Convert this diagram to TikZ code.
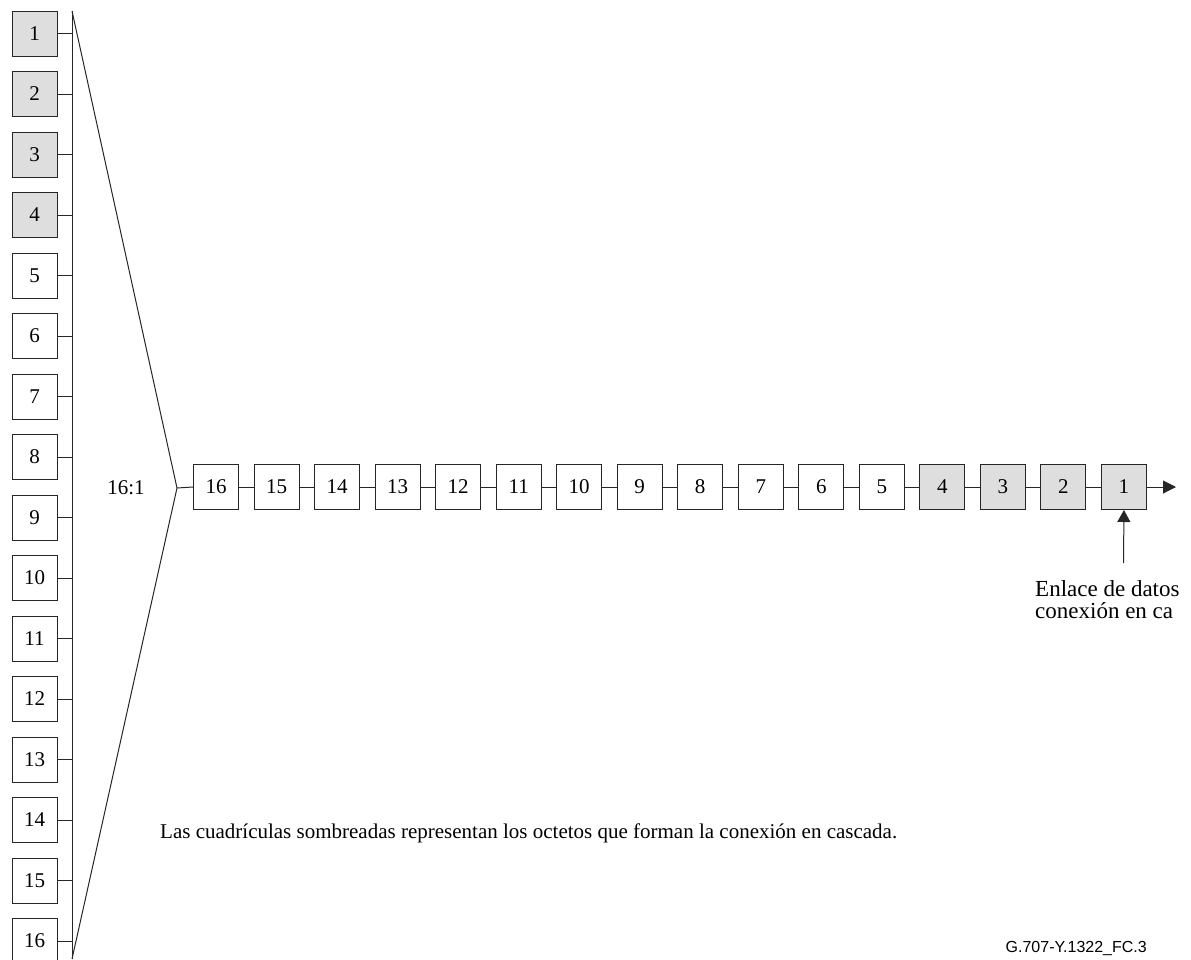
\documentclass[tikz,border=0pt]{standalone}
\usepackage{fontspec}
\setmainfont{Liberation Serif}
\newfontfamily\figfont{Liberation Sans}
\usetikzlibrary{arrows.meta}

\begin{document}
\begin{tikzpicture}[x=1pt,y=-1pt,font=\fontsize{21}{21}\selectfont,
 oct/.style={draw=black!85,line width=1pt,minimum size=45pt,inner sep=0pt},
 octsh/.style={oct,fill=black!13},
 wire/.style={draw=black!85,line width=1pt}]
\useasboundingbox (0,0) rectangle (1191,959);
% tributaries on the left
\coordinate (bt) at (72,11);
\coordinate (bb) at (72,959);
\coordinate (ap) at (177,488);
\foreach \i in {1,...,16}{
  \ifnum\i<5 \def\st{octsh}\else \def\st{oct}\fi
  \node[\st] (l\i) at (34.5,{33.5+60.5*(\i-1)}) {\i};
  \draw[wire] (l\i.east) -- (l\i.east -| bt);
}
\draw[wire] (bt) -- (bb);
\draw[wire] (bt) -- (ap) -- (bb);
\node (ratio) at (126,488) {16:1};
% multiplexed stream
\foreach \n in {1,...,16}{
  \ifnum\n<5 \def\st{octsh}\else \def\st{oct}\fi
  \node[\st] (c\n) at ({216+60.53*(16-\n)},487) {\n};
}
\draw[wire] (ap) -- (c16.west);
\foreach \n [evaluate=\n as \m using int(\n-1)] in {16,...,2}
  \draw[wire] (c\n.east) -- (c\m.west);
\coordinate (out) at (1176,487);
\draw[wire,-{Triangle[length=13pt,width=13pt]}] (c1.east) -- (out);
\coordinate (lk) at (1123.5,563);
\draw[wire,-{Triangle[length=12pt,width=13pt]}] (lk) -- (c1.south);
\node[anchor=north west,align=left,inner sep=0pt,font=\fontsize{23}{22.5}\selectfont]
  (enl) at (1035,580) {Enlace de datos\\conexión en ca};
\node[anchor=west,inner sep=0pt] (note) at (160,833)
  {Las cuadrículas sombreadas representan los octetos que forman la conexión en cascada.};
\node[anchor=east,inner sep=0pt,font=\figfont\fontsize{16}{16}\selectfont] (ref) at (1147,948)
  {G.707-Y.1322\_FC.3};
\end{tikzpicture}
\end{document}
